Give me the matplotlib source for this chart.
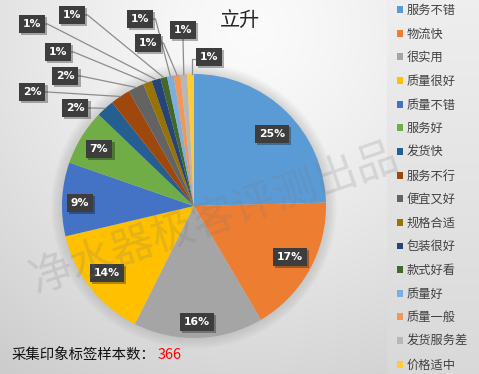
import numpy as np
import matplotlib
matplotlib.use("Agg")
import matplotlib.pyplot as plt
import matplotlib.patheffects as pe

plt.rcParams['font.family'] = ['Noto Sans CJK SC', 'DejaVu Sans']

# ---- data ----
categories = ['服务不错', '物流快', '很实用', '质量很好', '质量不错', '服务好', '发货快', '服务不行',
              '便宜又好', '规格合适', '包装很好', '款式好看', '质量好', '质量一般', '发货服务差', '价格适中']
counts = [90, 62, 58, 51, 33, 25, 8, 9, 7, 4, 4, 3, 3, 3, 3, 3]
colors = ['#5B9BD5', '#ED7D31', '#A5A5A5', '#FFC000', '#4472C4', '#70AD47', '#255E91', '#9E480E',
          '#636363', '#997300', '#264478', '#43682B', '#7CAFDD', '#F1975A', '#B7B7B7', '#FFCD33']
title = '立升'
sample_label = '采集印象标签样本数：'
sample_total = sum(counts)

# ---- layout (pixels, y measured from top) ----
W, H = 479, 374
cx, cy, R = 194, 206, 132
label_pos = [(272, 134), (290, 257), (197, 322), (107, 273), (80, 203), (99, 149),
             (75, 108), (32, 92), (65, 76), (58, 52), (32, 24), (72, 15),
             (140, 19), (148, 43), (183, 30), (209, 57)]
# leader style: None = inside, 'h' = from right edge, 'v' = from bottom, 'l' = from left
leader = [None] * 6 + ['h'] * 8 + ['v', 'l']

fig = plt.figure(figsize=(W / 100, H / 100), dpi=100)
ax = fig.add_axes([0, 0, 1, 1])

def Y(y):
    return H - y

# background
yy, xx = np.mgrid[0:H, 0:W]
d = np.sqrt((xx - 250) ** 2 + (yy - 30) ** 2)
v = 0.985 - 0.19 * np.clip(d / 430, 0, 1.2) ** 1.3
leg = xx >= 387
v[leg] = (0.935 - 0.085 * (yy / H))[leg]
img = np.dstack([v, v, v])
ax.imshow(img, extent=[0, W, 0, H], origin='upper', zorder=0, aspect='auto')

# soft shadow around the pie
for k in range(1, 12):
    ax.add_patch(plt.Circle((cx, Y(cy)), R + k, color='#808080', alpha=0.025, lw=0, zorder=1))

wedges, _ = ax.pie(counts, colors=colors, startangle=90, counterclock=False,
                   center=(cx, Y(cy)), radius=R, wedgeprops=dict(linewidth=0))
for w in wedges:
    w.set_zorder(2)

ax.set_xlim(0, W)
ax.set_ylim(0, H)
ax.set_aspect('auto')
ax.axis('off')

# labels
total = sum(counts)
cum = np.cumsum([0] + counts)
for i, (c, (lx, ly)) in enumerate(zip(counts, label_pos)):
    pct = f"{round(100 * c / total)}%"
    mid = np.deg2rad((cum[i] + c / 2) / total * 360)
    ax_, ay_ = cx + R * np.sin(mid), cy - R * np.cos(mid)
    if leader[i] == 'h':
        sx = lx + 11.5
        ax.plot([sx, sx + 4, ax_], [Y(ly), Y(ly), Y(ay_)], color='#8c8c8c', lw=0.9, zorder=3)
    elif leader[i] == 'v':
        ax.plot([lx, ax_], [Y(ly + 9.5), Y(ay_)], color='#8c8c8c', lw=0.9, zorder=3)
    elif leader[i] == 'l':
        sx = lx - 11.5
        ax.plot([sx, ax_ + 1, ax_ + 1], [Y(ly + 2), Y(ly + 2), Y(ay_)], color='#8c8c8c', lw=0.9, zorder=3)
    t = ax.text(lx, Y(ly), pct, ha='center', va='center', fontsize=7.8, weight='bold',
                family='DejaVu Sans', color='white', zorder=5,
                bbox=dict(boxstyle='square,pad=0.38', facecolor='#3d3d3d', edgecolor='none'))
    t.get_bbox_patch().set_path_effects([pe.SimplePatchShadow(offset=(1.5, -1.5), shadow_rgbFace='black', alpha=0.3),
                                         pe.Normal()])

# title
ax.text(240, Y(20), title, ha='center', va='center', fontsize=14.5, color='#262626', zorder=6)

# watermark
ax.text(215, Y(219), '净水器极客评测出品', ha='center', va='center', fontsize=31,
        rotation=19, color='#7a7a7a', alpha=0.2, zorder=7)

# bottom note
ax.text(12, Y(355), sample_label, ha='left', va='center', fontsize=10.4, color='#111111', zorder=6)
ax.text(158, Y(355), str(sample_total), ha='left', va='center', fontsize=10.4, color='#FF0000', zorder=6)

# legend
lg = ax.legend(wedges, categories, loc='upper left', bbox_to_anchor=(397 / W, 1 - 4 / H),
               bbox_transform=fig.transFigure, frameon=False, fontsize=8.8,
               handlelength=0.5, handleheight=0.5, handletextpad=0.25,
               labelspacing=0.87, borderpad=0, borderaxespad=0)
for t in lg.get_texts():
    t.set_color('#404040')

fig.savefig('out.png', dpi=100)
